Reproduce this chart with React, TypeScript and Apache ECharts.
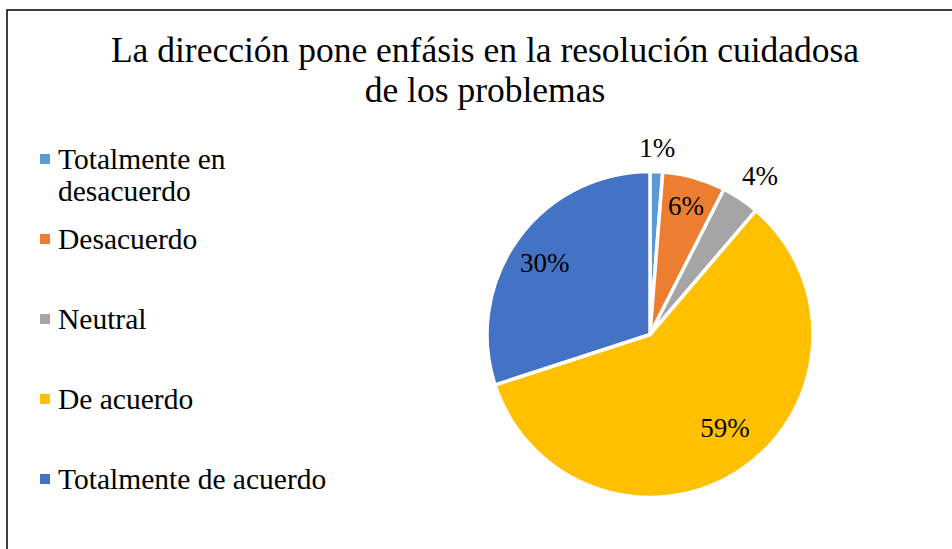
import React, { useEffect, useRef } from "react";
import * as echarts from "echarts";

const titleText = "La dirección pone enfásis en la resolución cuidadosa\nde los problemas";
const categories = [
  "Totalmente en desacuerdo",
  "Desacuerdo",
  "Neutral",
  "De acuerdo",
  "Totalmente de acuerdo",
];
const counts = [1, 5, 3, 47, 24];
const colors = ["#5B9BD5", "#ED7D31", "#A5A5A5", "#FFC000", "#4472C4"];
// ring (inner, outer radius) whose middle carries each percentage label
const labelRings = [
  [166, 202],
  [98, 162],
  [170, 210],
  [76, 158],
  [86, 162],
];
// small angular nudge of each label's ring (start angle, degrees)
const labelStartAngles = [90, 90, 89, 95, 92];

const FONT = '"Times New Roman", "Liberation Serif", serif';
const CENTER = [650, 334.5];

export default function App() {
  const ref = useRef<HTMLDivElement>(null);

  useEffect(() => {
    if (!ref.current) return;
    const chart = echarts.init(ref.current, undefined, { renderer: "svg" });
    const total = counts.reduce((a, b) => a + b, 0);
    const pct = (v: number) => Math.round((v / total) * 100) + "%";

    const baseData = categories.map((name, i) => ({
      name,
      value: counts[i],
      itemStyle: { color: colors[i] },
    }));

    const labelSeries = (k: number) => ({
      type: "pie",
      center: CENTER,
      radius: labelRings[k],
      startAngle: labelStartAngles[k],
      clockwise: true,
      silent: true,
      avoidLabelOverlap: false,
      emphasis: { disabled: true },
      labelLine: { show: false },
      itemStyle: { color: "rgba(0,0,0,0)", borderWidth: 0 },
      data: categories.map((name, i) => ({
        name,
        value: counts[i],
        itemStyle: { color: "rgba(0,0,0,0)" },
        label: {
          show: i === k,
          position: "inside",
          formatter: (p: any) => pct(p.value),
          color: "#000",
          fontSize: 27,
          fontFamily: FONT,
        },
      })),
    });

    const legendTops = [111, 223, 303, 383, 463];
    const legends = categories.map((name, i) => ({
      orient: "vertical",
      left: 38,
      top: legendTops[i],
      padding: 0,
      icon: "rect",
      itemWidth: 12,
      itemHeight: 12,
      selectedMode: false,
      data: [name],
      ...(i === 0 ? { formatter: (n: string) => "\n" + n } : {}),
      textStyle: {
        fontSize: 29.5,
        fontFamily: FONT,
        color: "#000",
        lineHeight: 32,
        padding: [0, 0, 0, 2],
        ...(i === 0 ? { width: 200, overflow: "break" } : {}),
      },
    }));

    chart.setOption({
      animation: false,
      backgroundColor: "#fff",
      title: {
        text: titleText,
        left: 485,
        top: 30,
        padding: 0,
        textAlign: "center",
        textStyle: {
          fontSize: 35.5,
          fontWeight: "normal",
          fontFamily: FONT,
          color: "#000",
          lineHeight: 40,
        },
      },
      legend: legends,
      graphic: [
        {
          type: "rect",
          shape: { x: 7, y: 10, width: 1000, height: 600 },
          style: { fill: "none", stroke: "#000", lineWidth: 1.5 },
          silent: true,
        },
      ],
      series: [
        {
          type: "pie",
          center: CENTER,
          radius: 163,
          startAngle: 90,
          clockwise: true,
          avoidLabelOverlap: false,
          label: { show: false },
          labelLine: { show: false },
          emphasis: { disabled: true },
          itemStyle: { borderColor: "#fff", borderWidth: 3.5 },
          data: baseData,
        },
        ...categories.map((_, k) => labelSeries(k)),
      ],
    });

    return () => chart.dispose();
  }, []);

  return (
    <div
      ref={ref}
      style={{ position: "absolute", left: 0, top: 0, width: 952, height: 549 }}
    />
  );
}
